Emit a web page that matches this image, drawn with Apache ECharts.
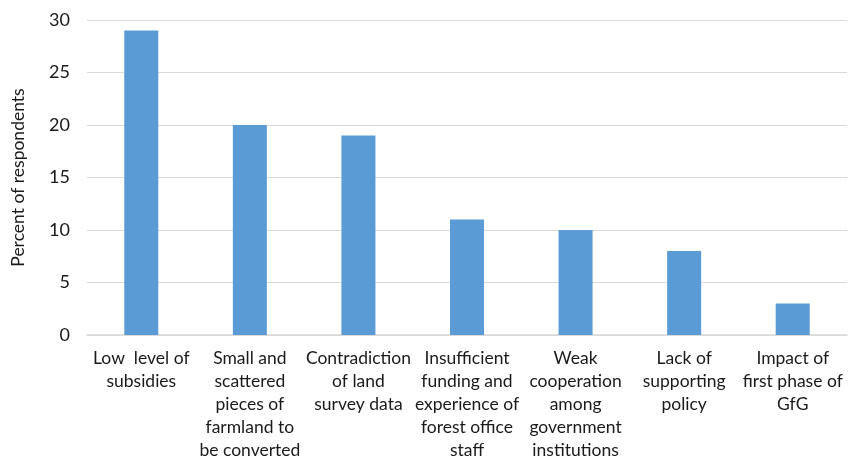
<!DOCTYPE html>
<html>
<head>
<meta charset="utf-8">
<script src="https://cdn.jsdelivr.net/npm/echarts@6/dist/echarts.min.js"></script>
<style>
  html, body { margin: 0; padding: 0; background: #fff; }
  #chart { width: 856px; height: 460px; }
</style>
</head>
<body>
<div id="chart"></div>
<script>
// Reported obstacles and share of respondents naming each
const categories = [
  'Low  level of\nsubsidies',
  'Small and\nscattered\npieces of\nfarmland to\nbe converted',
  'Contradiction\nof land\nsurvey data',
  'Insufficient\nfunding and\nexperience of\nforest office\nstaff',
  'Weak\ncooperation\namong\ngovernment\ninstitutions',
  'Lack of\nsupporting\npolicy',
  'Impact of\nfirst phase of\nGfG'
];
const percents = [29, 20, 19, 11, 10, 8, 3];
const yTicks = { min: 0, max: 30, interval: 5 };

const chart = echarts.init(document.getElementById('chart'), null, { renderer: 'canvas' });
const font = 'Lato, "Open Sans", sans-serif';
chart.setOption({
  animation: false,
  grid: { left: 87, right: 9, top: 20, bottom: 125, outerBoundsMode: 'none' },
  xAxis: {
    type: 'category',
    data: categories,
    axisLine: { lineStyle: { color: '#D9D9D9', width: 1.5 } },
    axisTick: { show: false },
    axisLabel: {
      interval: 0,
      margin: 12,
      color: '#1a1a1a',
      fontFamily: font,
      fontSize: 17.5,
      lineHeight: 23
    }
  },
  yAxis: {
    type: 'value',
    min: yTicks.min,
    max: yTicks.max,
    interval: yTicks.interval,
    name: 'Percent of respondents',
    nameLocation: 'middle',
    nameGap: 60,
    nameTextStyle: { color: '#1a1a1a', fontFamily: font, fontSize: 17.5 },
    axisLine: { show: false },
    axisTick: { show: false },
    splitLine: { lineStyle: { color: '#D9D9D9', width: 1.2 } },
    axisLabel: { color: '#1a1a1a', fontFamily: font, fontSize: 18, margin: 17 }
  },
  series: [{
    type: 'bar',
    data: percents,
    barWidth: 34,
    itemStyle: { color: '#5B9BD5' }
  }]
});
</script>
</body>
</html>
